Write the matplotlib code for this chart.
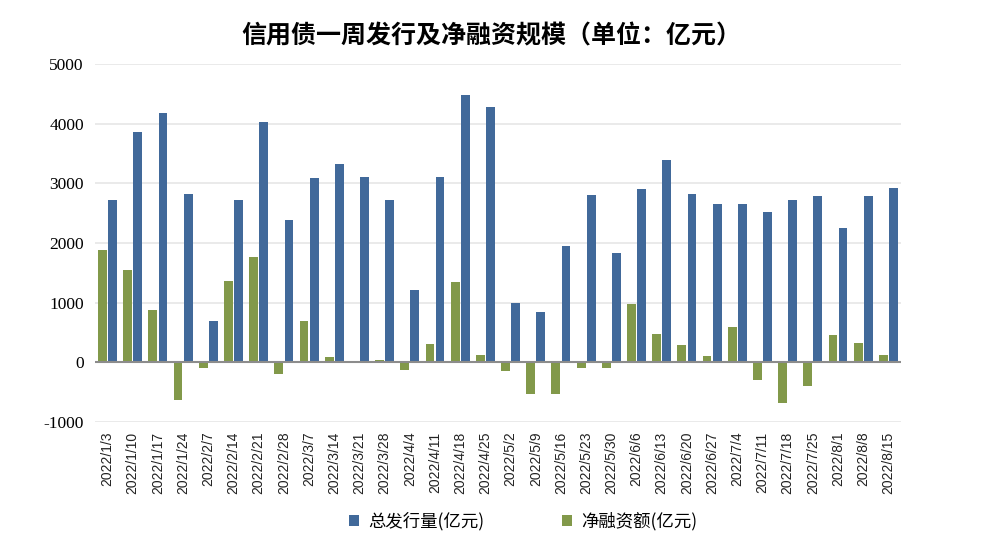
import matplotlib
matplotlib.use("Agg")
import matplotlib.pyplot as plt
import numpy as np

# weekly data, 2022
DATES = ["2022/1/3", "2022/1/10", "2022/1/17", "2022/1/24", "2022/2/7", "2022/2/14",
         "2022/2/21", "2022/2/28", "2022/3/7", "2022/3/14", "2022/3/21", "2022/3/28",
         "2022/4/4", "2022/4/11", "2022/4/18", "2022/4/25", "2022/5/2", "2022/5/9",
         "2022/5/16", "2022/5/23", "2022/5/30", "2022/6/6", "2022/6/13", "2022/6/20",
         "2022/6/27", "2022/7/4", "2022/7/11", "2022/7/18", "2022/7/25", "2022/8/1",
         "2022/8/8", "2022/8/15"]
ISSUANCE = [2730, 3870, 4180, 2815, 700, 2730, 4025, 2380, 3085, 3320, 3100, 2715,
            1220, 3100, 4480, 4280, 1000, 850, 1945, 2800, 1840, 2900, 3385, 2830,
            2650, 2650, 2515, 2730, 2785, 2245, 2785, 2915]
NET_FINANCING = [1890, 1540, 885, -625, -100, 1370, 1760, -200, 700, 95, 0, 45,
                 -125, 315, 1355, 130, -140, -535, -535, -90, -90, 970, 480, 295,
                 110, 600, -290, -675, -390, 450, 330, 130]

BLUE = "#41699A"
GREEN = "#82994A"
CJK = ["Noto Sans CJK SC", "DejaVu Sans"]

fig = plt.figure(figsize=(9.82, 5.48), dpi=100)
ax = fig.add_axes([0.0967, 0.230, 0.8208, 0.653])

x = np.arange(len(DATES))
w = 0.35
ax.bar(x + 0.2, ISSUANCE, width=w, color=BLUE, zorder=3, label="总发行量(亿元)")
ax.bar(x - 0.2, NET_FINANCING, width=w, color=GREEN, zorder=3, label="净融资额(亿元)")

ax.set_xlim(-0.5, len(DATES) - 0.5)
ax.set_ylim(-1000, 5000)
ax.set_yticks(np.arange(-1000, 5001, 1000))
ax.grid(axis="y", color="#E6E6E6", linewidth=1.2, zorder=0)
ax.axhline(0, color="#8C8C8C", linewidth=1.5, zorder=4)
for s in ax.spines.values():
    s.set_visible(False)
ax.tick_params(axis="both", length=0)
ax.tick_params(axis="y", pad=8)
ax.set_yticklabels([str(v) for v in range(-1000, 5001, 1000)],
                   family="Liberation Serif", fontsize=12.5)
ax.set_xticks(x)
ax.set_xticklabels(DATES, rotation=90, family="Liberation Sans", fontsize=10,
                   color="#222222")
ax.tick_params(axis="x", pad=7)

fig.suptitle("信用债一周发行及净融资规模（单位：亿元）", family=CJK, fontsize=18,
             fontweight="bold", x=0.5, y=0.955)

ax.legend(loc="center", bbox_to_anchor=(0.531, -0.277), ncol=2, frameon=False,
          prop={"family": CJK, "size": 12.5}, handlelength=0.6, handleheight=0.6,
          handletextpad=0.5, columnspacing=4.5)

fig.savefig("out.png", dpi=100, facecolor="white")
